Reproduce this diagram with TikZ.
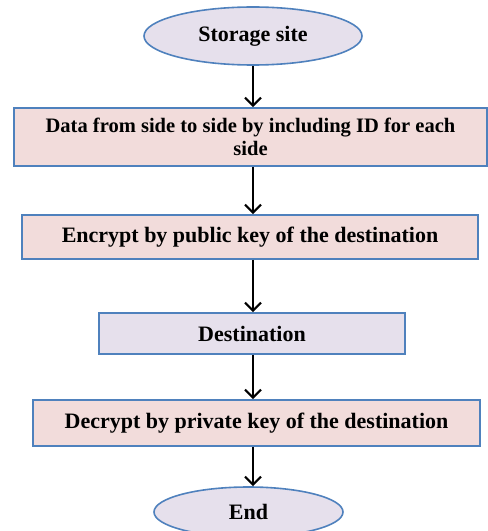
\documentclass[tikz,border=0pt]{standalone}
\usepackage{fontspec}
\setmainfont{Liberation Serif}
\usetikzlibrary{shapes.geometric,arrows.meta}

\tikzset{every picture/.style={line width=0.75pt}}
\tikzset{
  flowbox/.style={draw={rgb,255:red,79;green,129;blue,189},line width=1.2pt,
    fill={rgb,255:red,242;green,220;blue,219},inner sep=0pt,align=center,
    font=\fontsize{16.5}{17.5}\selectfont\bfseries},
  termnode/.style={flowbox,ellipse,fill={rgb,255:red,230;green,224;blue,236}},
  flowarrow/.style={line width=1.6pt,-{Straight Barb[length=6pt,width=12pt,line width=1.6pt]}}
}

\begin{document}
\begin{tikzpicture}[x=0.75pt,y=0.75pt,yscale=-1,xscale=1]
\useasboundingbox (0,0) rectangle (487,531);

% Terminals
\node (start) [termnode,minimum width=163.5pt,minimum height=43.5pt] at (253,36) {Storage site};
\node (finish) [termnode,minimum width=141.75pt,minimum height=37.5pt] at (248.5,512) {End};

% Steps
\node (split) [flowbox,minimum width=354.75pt,minimum height=43.5pt,font=\fontsize{15.4}{17.5}\selectfont\bfseries] at (250.5,137) {Data from side to side by including ID for each\\side};
\node (encrypt) [flowbox,minimum width=342pt,minimum height=33pt] at (250,237) {Encrypt by public key of the destination};
\node (dest) [flowbox,minimum width=229.5pt,minimum height=30.75pt,fill={rgb,255:red,230;green,224;blue,236}] at (252,333.5) {Destination};
\node (decrypt) [flowbox,minimum width=335.25pt,minimum height=34.5pt] at (256.5,423) {Decrypt by private key of the destination};

% Arrows
\draw [flowarrow] (start.south) -- (start.south |- split.north);
\draw [flowarrow] (split.south -| start.south) -- (start.south |- encrypt.north);
\draw [flowarrow] (encrypt.south -| start.south) -- (start.south |- dest.north);
\draw [flowarrow] (dest.south -| start.south) -- (start.south |- decrypt.north);
\draw [flowarrow] (decrypt.south -| start.south) -- (start.south |- finish.north);

\end{tikzpicture}
\end{document}
